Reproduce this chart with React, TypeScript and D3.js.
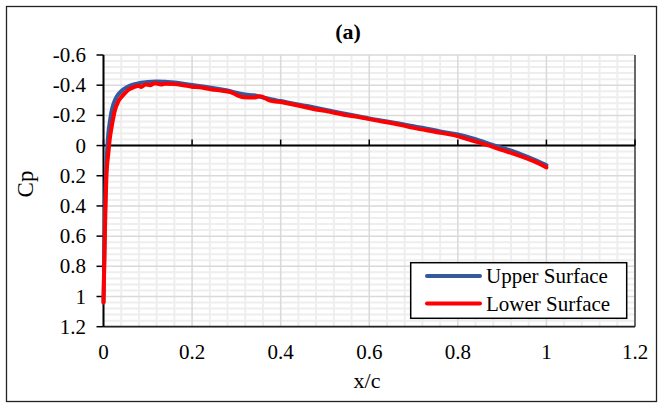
import React from "react";
import * as d3 from "d3";

const xUpper = [0, 0.002, 0.004, 0.007, 0.01, 0.015, 0.02, 0.025, 0.03, 0.04, 0.05, 0.06, 0.07, 0.08, 0.09, 0.1, 0.12, 0.14, 0.16, 0.18, 0.2, 0.22, 0.25, 0.28, 0.3, 0.32, 0.34, 0.36, 0.38, 0.4, 0.43, 0.46, 0.5, 0.53, 0.56, 0.6, 0.63, 0.66, 0.7, 0.73, 0.76, 0.8, 0.83, 0.86, 0.9, 0.93, 0.96, 0.98, 1.0];
const cpUpper = [1.04, 0.7, 0.35, 0.1, -0.05, -0.17, -0.25, -0.295, -0.325, -0.36, -0.382, -0.397, -0.407, -0.413, -0.418, -0.422, -0.425, -0.422, -0.418, -0.41, -0.402, -0.393, -0.38, -0.365, -0.35, -0.338, -0.333, -0.318, -0.305, -0.295, -0.277, -0.262, -0.238, -0.22, -0.203, -0.18, -0.165, -0.15, -0.128, -0.112, -0.094, -0.073, -0.05, -0.022, 0.015, 0.043, 0.078, 0.103, 0.13];

const xLower = [0, 0.003, 0.007, 0.011, 0.014, 0.0185, 0.026, 0.033, 0.041, 0.05, 0.056, 0.065, 0.072, 0.079, 0.085, 0.095, 0.105, 0.116, 0.13, 0.14, 0.161, 0.18, 0.199, 0.218, 0.244, 0.265, 0.286, 0.3, 0.316, 0.338, 0.353, 0.376, 0.395, 0.414, 0.444, 0.474, 0.5, 0.519, 0.55, 0.579, 0.6, 0.624, 0.669, 0.7, 0.75, 0.797, 0.83, 0.865, 0.9, 0.925, 0.96, 0.98, 1.0];
const cpLower = [1.04, 0.6, 0.18, 0.05, -0.04, -0.125, -0.236, -0.29, -0.324, -0.352, -0.368, -0.382, -0.39, -0.396, -0.388, -0.405, -0.4, -0.413, -0.404, -0.41, -0.407, -0.4, -0.39, -0.386, -0.372, -0.364, -0.355, -0.336, -0.32, -0.318, -0.326, -0.298, -0.29, -0.28, -0.262, -0.242, -0.23, -0.218, -0.2, -0.187, -0.175, -0.162, -0.137, -0.117, -0.09, -0.064, -0.035, -0.004, 0.03, 0.053, 0.09, 0.115, 0.145];

const xTicks = [0, 0.2, 0.4, 0.6, 0.8, 1, 1.2];
const yTicks = [-0.6, -0.4, -0.2, 0, 0.2, 0.4, 0.6, 0.8, 1, 1.2];
const seriesNames = ["Upper Surface", "Lower Surface"];
const seriesColors = ["#34599f", "#ff0000"];

const FONT = "'Liberation Serif', 'Times New Roman', serif";

export default function App() {
  const left = 103.5, right = 635, top = 55, bottom = 326.7;
  const x = d3.scaleLinear().domain([0, 1.2]).range([left, right]);
  const y = d3.scaleLinear().domain([-0.6, 1.2]).range([top, bottom]);

  const minorX = d3.range(0, 1.2001, 0.04).filter((v) => Math.abs(v / 0.2 - Math.round(v / 0.2)) > 1e-6);
  const minorY = d3.range(-0.6, 1.2001, 0.04).filter((v) => Math.abs(v / 0.2 - Math.round(v / 0.2)) > 1e-6);

  const line = d3
    .line<[number, number]>()
    .x((d) => x(d[0]))
    .y((d) => y(d[1]))
    .curve(d3.curveMonotoneX);

  const upperPts: [number, number][] = xUpper.map((v, i) => [v, cpUpper[i]]);
  const lowerPts: [number, number][] = xLower.map((v, i) => [v, cpLower[i]]);

  const fmt = (v: number) => (Math.abs(v) < 1e-9 ? "0" : String(+v.toFixed(1)));

  return (
    <svg
      width={660}
      height={403}
      style={{ position: "absolute", left: 0, top: 0, background: "#fff" }}
      fontFamily={FONT}
    >
      <rect x={0} y={0} width={660} height={403} fill="#fff" />
      <rect x={6.5} y={6.5} width={650} height={395} fill="#fff" stroke="#222" strokeWidth={1.3} />

      {minorX.map((v) => (
        <line key={"mx" + v} x1={x(v)} x2={x(v)} y1={top} y2={bottom} stroke="#eeeeee" strokeWidth={2} />
      ))}
      {minorY.map((v) => (
        <line key={"my" + v} x1={left} x2={right} y1={y(v)} y2={y(v)} stroke="#eeeeee" strokeWidth={2} />
      ))}
      {xTicks.map((v) => (
        <line key={"gx" + v} x1={x(v)} x2={x(v)} y1={top} y2={bottom} stroke="#d9d9d9" strokeWidth={1.5} />
      ))}
      {yTicks.map((v) => (
        <line key={"gy" + v} x1={left} x2={right} y1={y(v)} y2={y(v)} stroke="#d9d9d9" strokeWidth={1.5} />
      ))}

      <line x1={right} x2={right} y1={top} y2={bottom} stroke="#404040" strokeWidth={1.5} />
      <line x1={left} x2={right} y1={bottom} y2={bottom} stroke="#222" strokeWidth={1.8} />

      <line x1={left} x2={right} y1={y(0)} y2={y(0)} stroke="#000" strokeWidth={2} />
      {xTicks.map((v) => (
        <line key={"tx" + v} x1={x(v)} x2={x(v)} y1={y(0)} y2={y(0) - 6} stroke="#000" strokeWidth={1.5} />
      ))}
      <line x1={left} x2={left} y1={top} y2={bottom} stroke="#000" strokeWidth={2} />
      {yTicks.map((v) => (
        <line key={"ty" + v} x1={left - 7} x2={left} y1={y(v)} y2={y(v)} stroke="#000" strokeWidth={1.5} />
      ))}

      <path d={line(upperPts) || ""} fill="none" stroke={seriesColors[0]} strokeWidth={4} strokeLinejoin="round" strokeLinecap="round" />
      <path d={line(lowerPts) || ""} fill="none" stroke={seriesColors[1]} strokeWidth={4} strokeLinejoin="round" strokeLinecap="round" />

      {yTicks.map((v) => (
        <text key={"ly" + v} x={86} y={y(v) + 7} textAnchor="end" fontSize={21} fill="#000">
          {fmt(v)}
        </text>
      ))}
      {xTicks.map((v) => (
        <text key={"lx" + v} x={x(v)} y={359} textAnchor="middle" fontSize={21} fill="#000">
          {fmt(v)}
        </text>
      ))}

      <text x={367} y={388} textAnchor="middle" fontSize={22} fill="#000">x/c</text>
      <text transform="translate(33,184) rotate(-90)" textAnchor="middle" fontSize={23} fill="#000">Cp</text>
      <text x={348} y={39} textAnchor="middle" fontSize={22} fontWeight="bold" fill="#000">(a)</text>

      <rect x={410.7} y={262.7} width={216} height={55.6} fill="#fff" stroke="#000" strokeWidth={1.5} />
      {seriesNames.map((n, i) => (
        <g key={n}>
          <line x1={427} x2={480} y1={276 + i * 27.5} y2={276 + i * 27.5} stroke={seriesColors[i]} strokeWidth={4} strokeLinecap="round" />
          <text x={486} y={283 + i * 27.5} fontSize={21} fill="#000">{n}</text>
        </g>
      ))}
    </svg>
  );
}
